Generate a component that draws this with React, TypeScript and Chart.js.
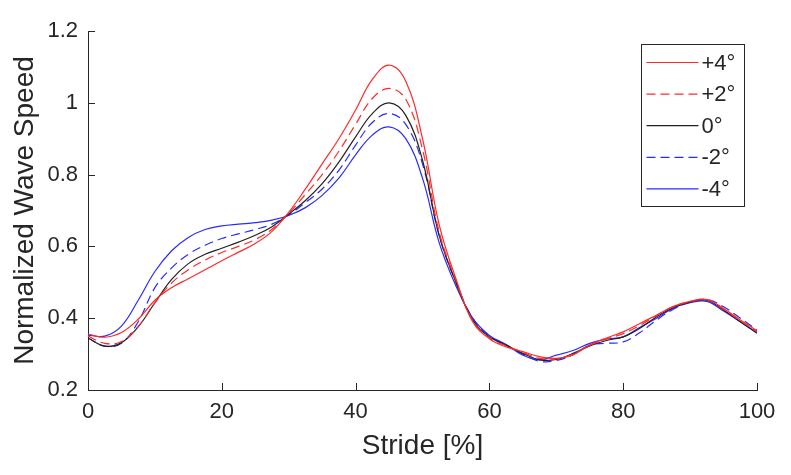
import React, { useEffect, useRef } from 'react';
import { Chart, registerables } from 'chart.js';

Chart.register(...registerables);

const stride = [0, 2.5, 5, 7.5, 10, 12.5, 15, 17.5, 20, 22.5, 25, 27.5, 30, 32.5, 35, 37.5, 40, 42.5, 45, 47.5, 50, 52.5, 55, 57.5, 60, 62.5, 65, 67.5, 70, 72.5, 75, 77.5, 80, 82.5, 85, 87.5, 90, 92.5, 95, 97.5, 100];

const plus4 = [0.356, 0.347, 0.36, 0.397, 0.45, 0.485, 0.51, 0.535, 0.56, 0.584, 0.608, 0.642, 0.695, 0.76, 0.83, 0.9, 0.98, 1.065, 1.105, 1.06, 0.9, 0.66, 0.51, 0.39, 0.343, 0.32, 0.307, 0.293, 0.288, 0.298, 0.325, 0.345, 0.362, 0.385, 0.409, 0.433, 0.447, 0.452, 0.427, 0.395, 0.365];
const plus2 = [0.35, 0.33, 0.335, 0.377, 0.443, 0.498, 0.535, 0.562, 0.583, 0.6, 0.619, 0.648, 0.692, 0.745, 0.8, 0.865, 0.94, 1.012, 1.04, 1.01, 0.87, 0.64, 0.505, 0.393, 0.345, 0.323, 0.305, 0.288, 0.287, 0.3, 0.325, 0.342, 0.357, 0.38, 0.407, 0.432, 0.446, 0.452, 0.425, 0.393, 0.362];
const zero = [0.345, 0.322, 0.332, 0.376, 0.443, 0.508, 0.552, 0.578, 0.595, 0.612, 0.631, 0.655, 0.69, 0.728, 0.775, 0.835, 0.905, 0.97, 1.0, 0.965, 0.84, 0.63, 0.5, 0.395, 0.348, 0.325, 0.302, 0.284, 0.285, 0.302, 0.323, 0.338, 0.348, 0.372, 0.404, 0.43, 0.445, 0.45, 0.423, 0.39, 0.358];
const minus2 = [0.345, 0.322, 0.33, 0.39, 0.485, 0.54, 0.578, 0.603, 0.622, 0.635, 0.647, 0.662, 0.688, 0.722, 0.76, 0.812, 0.882, 0.945, 0.97, 0.94, 0.83, 0.63, 0.5, 0.4, 0.35, 0.325, 0.3, 0.28, 0.282, 0.298, 0.325, 0.33, 0.334, 0.36, 0.395, 0.425, 0.445, 0.452, 0.432, 0.4, 0.367];
const minus4 = [0.353, 0.35, 0.378, 0.45, 0.53, 0.588, 0.625, 0.647, 0.657, 0.662, 0.666, 0.673, 0.686, 0.708, 0.742, 0.79, 0.855, 0.91, 0.933, 0.9, 0.79, 0.61, 0.49, 0.4, 0.352, 0.327, 0.297, 0.284, 0.297, 0.31, 0.33, 0.342, 0.348, 0.375, 0.4, 0.428, 0.443, 0.447, 0.42, 0.39, 0.36];

const seriesLabels = ['+4°', '+2°', '0°', '-2°', '-4°'];
const xTicks = [0, 20, 40, 60, 80, 100];
const yTicks = [0.2, 0.4, 0.6, 0.8, 1, 1.2];

const FONT = '"Liberation Sans", Arial, Helvetica, sans-serif';
const TEXT = '#262626';

const innerTicks = {
  id: 'innerTicks',
  afterDraw(chart: any) {
    const { ctx, chartArea, scales } = chart;
    ctx.save();
    ctx.strokeStyle = TEXT;
    ctx.lineWidth = 1;
    ctx.beginPath();
    for (const v of xTicks) {
      const px = Math.round(scales.x.getPixelForValue(v)) + 0.5;
      ctx.moveTo(px, chartArea.bottom);
      ctx.lineTo(px, chartArea.bottom - 7);
    }
    for (const v of yTicks) {
      const py = Math.round(scales.y.getPixelForValue(v)) + 0.5;
      ctx.moveTo(chartArea.left, py);
      ctx.lineTo(chartArea.left + 7, py);
    }
    ctx.stroke();
    ctx.restore();
  },
};

const boxLegend = {
  id: 'boxLegend',
  afterDraw(chart: any) {
    const { ctx, chartArea } = chart;
    const w = 103;
    const h = 162;
    const left = Math.round(chartArea.right - 13 - w) + 0.5;
    const top = Math.round(chartArea.top + 13) + 0.5;
    ctx.save();
    ctx.fillStyle = '#ffffff';
    ctx.fillRect(left, top, w, h);
    ctx.strokeStyle = TEXT;
    ctx.lineWidth = 1;
    ctx.strokeRect(left, top, w, h);
    ctx.font = `22px ${FONT}`;
    ctx.textBaseline = 'middle';
    ctx.textAlign = 'left';
    chart.data.datasets.forEach((ds: any, i: number) => {
      const y = top + 18 + i * 31.6;
      ctx.beginPath();
      ctx.strokeStyle = ds.borderColor;
      ctx.lineWidth = ds.borderWidth;
      ctx.setLineDash(ds.borderDash || []);
      ctx.moveTo(left + 5, y);
      ctx.lineTo(left + 57, y);
      ctx.stroke();
      ctx.setLineDash([]);
      ctx.fillStyle = TEXT;
      ctx.fillText(ds.label, left + 60, y + 1);
    });
    ctx.restore();
  },
};

export default function App() {
  const ref = useRef<HTMLCanvasElement | null>(null);

  useEffect(() => {
    if (!ref.current) return;
    const mk = (arr: number[]) => stride.map((s, i) => ({ x: s, y: arr[i] }));
    const styles = [
      { color: '#ff2a2a', dash: [] as number[] },
      { color: '#ff2a2a', dash: [9, 5] },
      { color: '#222222', dash: [] as number[] },
      { color: '#2a2aff', dash: [9, 5] },
      { color: '#2a2aff', dash: [] as number[] },
    ];
    const all = [plus4, plus2, zero, minus2, minus4];
    const chart = new Chart(ref.current, {
      type: 'line',
      data: {
        datasets: all.map((arr, i) => ({
          label: seriesLabels[i],
          data: mk(arr),
          borderColor: styles[i].color,
          borderDash: styles[i].dash,
          borderWidth: 1.2,
          pointRadius: 0,
          fill: false,
          tension: 0.4,
        })),
      },
      options: {
        responsive: false,
        animation: false,
        layout: { padding: { left: 0, right: 34, top: 31, bottom: 0 } },
        plugins: { legend: { display: false }, tooltip: { enabled: false } },
        scales: {
          x: {
            type: 'linear',
            min: 0,
            max: 100,
            afterBuildTicks: (axis: any) => {
              axis.ticks = xTicks.map((v) => ({ value: v }));
            },
            afterFit: (axis: any) => {
              axis.height = 85;
            },
            grid: { display: false, drawTicks: false },
            border: { display: true, color: TEXT, width: 1 },
            ticks: {
              color: TEXT,
              font: { family: FONT, size: 22 },
              padding: 9,
              maxRotation: 0,
              callback: (v: any) => String(v),
            },
            title: {
              display: true,
              text: 'Stride [%]',
              color: TEXT,
              font: { family: FONT, size: 28 },
              padding: { top: 0, bottom: 12 },
            },
          },
          y: {
            type: 'linear',
            min: 0.2,
            max: 1.2,
            afterBuildTicks: (axis: any) => {
              axis.ticks = yTicks.map((v) => ({ value: v }));
            },
            afterFit: (axis: any) => {
              axis.width = 88;
            },
            grid: { display: false, drawTicks: false },
            border: { display: true, color: TEXT, width: 1 },
            ticks: {
              color: TEXT,
              font: { family: FONT, size: 22 },
              padding: 10,
              callback: (v: any) => String(Math.round(Number(v) * 10) / 10),
            },
            title: {
              display: true,
              text: 'Normalized Wave Speed',
              color: TEXT,
              font: { family: FONT, size: 28 },
              padding: { top: 8, bottom: 0 },
            },
          },
        },
      },
      plugins: [innerTicks, boxLegend],
    } as any);
    return () => chart.destroy();
  }, []);

  return (
    <div style={{ position: 'fixed', left: 0, top: 0, width: 791, height: 475, background: '#fff' }}>
      <canvas ref={ref} width={791} height={475} style={{ display: 'block' }} />
    </div>
  );
}
